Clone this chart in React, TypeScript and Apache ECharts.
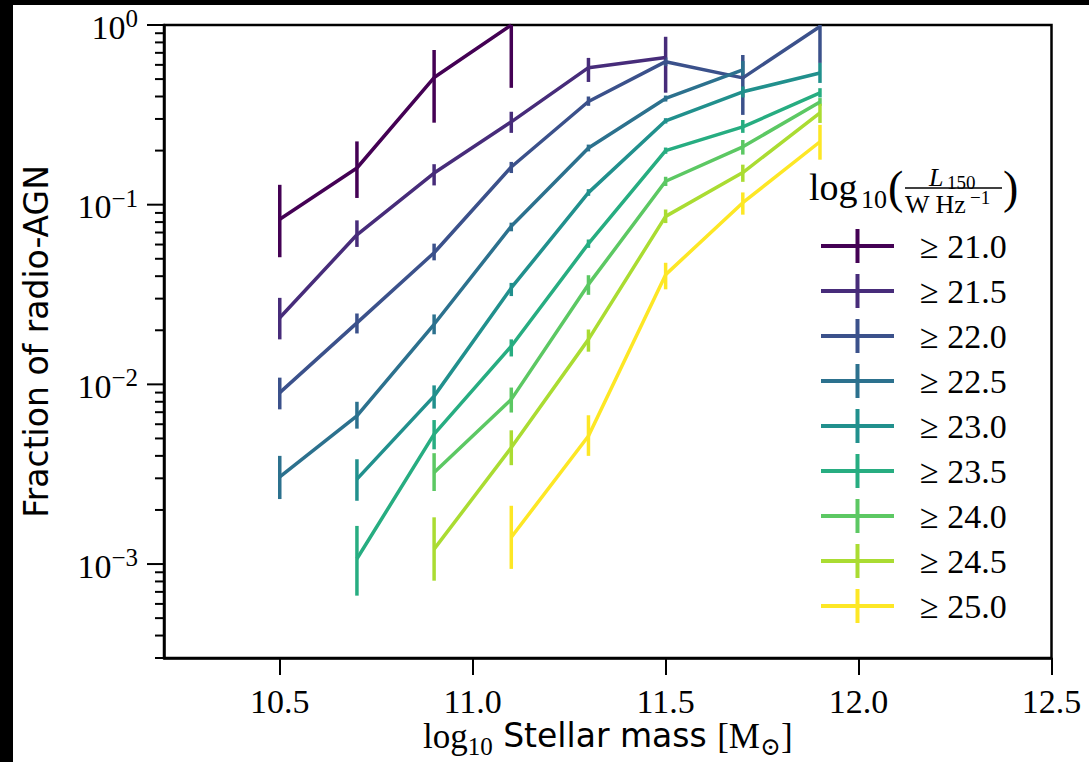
import React, { useEffect, useRef } from 'react';
import * as echarts from 'echarts';

// ---------- data ----------
const masses = [10.5, 10.7, 10.9, 11.1, 11.3, 11.5, 11.7, 11.9];
const thresholds = ['21.0', '21.5', '22.0', '22.5', '23.0', '23.5', '24.0', '24.5', '25.0'];
const colors = ['#440154', '#472c7a', '#3b518b', '#2c718e', '#21908d', '#27ad81', '#5cc863', '#aadc32', '#fde725'];

const frac21_0 = [0.083, 0.16, 0.51, 1.0, null, null, null, null];
const lo21_0 = [0.051, 0.109, 0.286, 0.447, null, null, null, null];
const hi21_0 = [0.129, 0.225, 0.726, 1.6, null, null, null, null];

const frac21_5 = [0.0235, 0.068, 0.15, 0.289, 0.579, 0.66, null, null];
const lo21_5 = [0.0178, 0.0582, 0.128, 0.251, 0.482, 0.42, null, null];
const hi21_5 = [0.0303, 0.0818, 0.168, 0.329, 0.656, 0.86, null, null];

const frac22_0 = [0.009, 0.022, 0.054, 0.162, 0.375, 0.625, 0.508, 0.98];
const lo22_0 = [0.00726, 0.0192, 0.049, 0.15, 0.355, 0.59, 0.316, 0.615];
const hi22_0 = [0.0109, 0.0248, 0.0607, 0.173, 0.4, 0.66, 0.681, 1.4];

const frac22_5 = [0.00306, 0.00667, 0.0216, 0.0758, 0.207, 0.39, 0.562, null];
const lo22_5 = [0.0023, 0.00567, 0.019, 0.0711, 0.198, 0.375, 0.5, null];
const hi22_5 = [0.004, 0.008, 0.0245, 0.0794, 0.216, 0.405, 0.63, null];

const frac23_0 = [null, 0.00297, 0.0086, 0.0344, 0.1167, 0.293, 0.425, 0.541];
const lo23_0 = [null, 0.00225, 0.00733, 0.031, 0.112, 0.283, 0.395, 0.476];
const hi23_0 = [null, 0.00383, 0.00987, 0.0367, 0.122, 0.303, 0.455, 0.615];

const frac23_5 = [null, 0.00107, 0.00528, 0.0163, 0.0607, 0.2, 0.271, 0.419];
const lo23_5 = [null, 0.000667, 0.00435, 0.0143, 0.0575, 0.192, 0.251, 0.395];
const hi23_5 = [null, 0.00163, 0.00633, 0.0178, 0.064, 0.208, 0.296, 0.445];

const frac24_0 = [null, null, 0.00323, 0.00825, 0.036, 0.135, 0.21, 0.373];
const lo24_0 = [null, null, 0.00255, 0.00697, 0.0315, 0.127, 0.19, 0.355];
const hi24_0 = [null, null, 0.00414, 0.0096, 0.0405, 0.143, 0.229, 0.392];

const frac24_5 = [null, null, 0.00121, 0.00445, 0.0178, 0.0861, 0.151, 0.324];
const lo24_5 = [null, null, 0.000808, 0.00355, 0.0152, 0.079, 0.134, 0.285];
const hi24_5 = [null, null, 0.00182, 0.00555, 0.0202, 0.094, 0.167, 0.365];

const frac25_0 = [null, null, null, 0.00141, 0.00516, 0.0408, 0.1026, 0.224];
const lo25_0 = [null, null, null, 0.00094, 0.004, 0.0338, 0.088, 0.178];
const hi25_0 = [null, null, null, 0.00211, 0.00673, 0.0475, 0.117, 0.278];

const fractions = [frac21_0, frac21_5, frac22_0, frac22_5, frac23_0, frac23_5, frac24_0, frac24_5, frac25_0];
const lows = [lo21_0, lo21_5, lo22_0, lo22_5, lo23_0, lo23_5, lo24_0, lo24_5, lo25_0];
const highs = [hi21_0, hi21_5, hi22_0, hi22_5, hi23_0, hi23_5, hi24_0, hi24_5, hi25_0];

const xTickValues = [10.5, 11.0, 11.5, 12.0, 12.5];
const yMajorTicks = [0.001, 0.01, 0.1, 1];
const yMinorTicks = [
  0.0003, 0.0004, 0.0005, 0.0006, 0.0007, 0.0008, 0.0009,
  0.002, 0.003, 0.004, 0.005, 0.006, 0.007, 0.008, 0.009,
  0.02, 0.03, 0.04, 0.05, 0.06, 0.07, 0.08, 0.09,
  0.2, 0.3, 0.4, 0.5, 0.6, 0.7, 0.8, 0.9,
];
const X_MIN = 10.2;
const X_MAX = 12.5;
const Y_MIN = 0.0003;
const Y_MAX = 1;

const SERIF = "'Liberation Serif', 'DejaVu Serif', serif";
const SANS = "'DejaVu Sans', sans-serif";
const PLUS = 'path://M0,15L73,15L73,19L0,19Z M34.5,0L38.5,0L38.5,34L34.5,34Z';

export default function App() {
  const ref = useRef<HTMLDivElement>(null);
  useEffect(() => {
    const chart = echarts.init(ref.current as HTMLDivElement, null, { renderer: 'svg' });
    const series: any[] = [];
    thresholds.forEach((t, i) => {
      const name = '≥ ' + t;
      const pts: any[] = [];
      const bars: any[] = [];
      masses.forEach((m, j) => {
        const v = fractions[i][j];
        if (v == null) return;
        pts.push([m, v]);
        bars.push([m, lows[i][j], highs[i][j]]);
      });
      series.push({
        type: 'custom',
        name: name + ' err',
        data: bars,
        encode: { x: 0, y: [1, 2] },
        clip: true,
        silent: true,
        renderItem: (_p: any, api: any) => {
          const a = api.coord([api.value(0), api.value(1)]);
          const b = api.coord([api.value(0), api.value(2)]);
          return {
            type: 'line',
            shape: { x1: a[0], y1: a[1], x2: b[0], y2: b[1] },
            style: { stroke: colors[i], lineWidth: 3.5 },
          };
        },
      });
      series.push({
        type: 'line',
        name,
        data: pts,
        symbol: 'none',
        lineStyle: { color: colors[i], width: 3.5 },
        itemStyle: { color: colors[i] },
      });
    });
    const tickSeries = (vals: number[], len: number) => ({
      type: 'custom',
      name: 'ticks' + len,
      data: vals.map((v) => [X_MIN, v]),
      encode: { x: 0, y: 1 },
      clip: false,
      silent: true,
      renderItem: (_p: any, api: any) => {
        const c = api.coord([api.value(0), api.value(1)]);
        return {
          type: 'line',
          shape: { x1: c[0] - len, y1: c[1], x2: c[0], y2: c[1] },
          style: { stroke: '#000', lineWidth: 2 },
        };
      },
    });
    series.push(tickSeries(yMajorTicks, 17));
    series.push(tickSeries(yMinorTicks, 9));

    chart.setOption({
      animation: false,
      backgroundColor: '#fff',
      grid: {
        left: 164,
        right: 37.5,
        top: 25,
        bottom: 104,
        show: true,
        borderColor: '#000',
        borderWidth: 2.5,
        containLabel: false,
        outerBoundsMode: 'none',
      },
      xAxis: {
        type: 'value',
        min: X_MIN,
        max: X_MAX,
        splitLine: { show: false },
        axisLine: { lineStyle: { color: '#000', width: 2.5 } },
        axisTick: { customValues: xTickValues, length: 17, lineStyle: { color: '#000', width: 2 } },
        axisLabel: {
          customValues: xTickValues,
          formatter: (v: number) => v.toFixed(1),
          fontFamily: SERIF,
          fontSize: 34,
          color: '#000',
          margin: 26,
        },
        name: '{s|log}{sub|10}{t| Stellar mass }{s|[M}{sub|⊙}{s|]}',
        nameLocation: 'middle',
        nameMoveOverlap: false,
        nameGap: 61,
        nameTextStyle: {
          rich: {
            s: { fontFamily: SERIF, fontSize: 35, color: '#000', lineHeight: 40, verticalAlign: 'top', padding: [0, 0, 4, 0] },
            sub: { fontFamily: SERIF, fontSize: 25, color: '#000', lineHeight: 24, verticalAlign: 'bottom' },
            t: { fontFamily: SANS, fontSize: 33, color: '#000', lineHeight: 40, verticalAlign: 'top', padding: [0, 0, 4, 0] },
          },
        },
      },
      yAxis: {
        type: 'log',
        logBase: 10,
        min: Y_MIN,
        max: Y_MAX,
        splitLine: { show: false },
        axisLine: { lineStyle: { color: '#000', width: 2.5 } },
        axisTick: { show: false },
        axisLabel: {
          margin: 26,
          formatter: (v: number) => {
            const l = Math.log10(v);
            const e = Math.round(l);
            if (Math.abs(l - e) > 1e-6) return '';
            return '{b|10}{s|' + (e === 0 ? '0' : '−' + Math.abs(e)) + '}';
          },
          rich: {
            b: { fontFamily: SERIF, fontSize: 34, color: '#000', lineHeight: 38, verticalAlign: 'bottom' },
            s: { fontFamily: SERIF, fontSize: 25, color: '#000', lineHeight: 25, verticalAlign: 'top' },
          },
        },
        name: 'Fraction of radio-AGN',
        nameLocation: 'middle',
        nameMoveOverlap: false,
        nameGap: 111,
        nameTextStyle: { fontFamily: SANS, fontSize: 33, color: '#000' },
      },
      legend: {
        data: thresholds.map((t) => ({ name: '≥ ' + t, icon: PLUS })),
        orient: 'vertical',
        left: 816,
        top: 224,
        itemWidth: 73,
        itemHeight: 34,
        itemGap: 11,
        selectedMode: false,
        itemStyle: { borderWidth: 0 },
        textStyle: { fontFamily: SERIF, fontSize: 34, color: '#000', padding: [0, 0, 0, 21], lineHeight: 34 },
      },
      graphic: [
        { type: 'rect', shape: { x: 0, y: 0, width: 1089, height: 5 }, style: { fill: '#000' } },
        { type: 'rect', shape: { x: 0, y: 0, width: 13, height: 762 }, style: { fill: '#000' } },
        { type: 'text', x: 809, y: 187, style: { text: 'log', font: '38px ' + SERIF, fill: '#000', verticalAlign: 'middle' } },
        { type: 'text', x: 861, y: 199, style: { text: '10', font: '26px ' + SERIF, fill: '#000', verticalAlign: 'middle' } },
        { type: 'text', x: 888, y: 187, style: { text: '(', font: '46px ' + SERIF, fill: '#000', verticalAlign: 'middle' } },
        { type: 'text', x: 929, y: 177, style: { text: 'L', font: 'italic 26px ' + SERIF, fill: '#000', verticalAlign: 'middle' } },
        { type: 'text', x: 947, y: 182, style: { text: '150', font: '19px ' + SERIF, fill: '#000', verticalAlign: 'middle' } },
        { type: 'line', shape: { x1: 905, y1: 188, x2: 1002, y2: 188 }, style: { stroke: '#000', lineWidth: 1.5 } },
        { type: 'text', x: 905, y: 204, style: { text: 'W Hz', font: '26px ' + SERIF, fill: '#000', verticalAlign: 'middle' } },
        { type: 'text', x: 970, y: 197, style: { text: '−1', font: '19px ' + SERIF, fill: '#000', verticalAlign: 'middle' } },
        { type: 'text', x: 1003, y: 187, style: { text: ')', font: '46px ' + SERIF, fill: '#000', verticalAlign: 'middle' } },
      ],
      series,
    });
    return () => chart.dispose();
  }, []);
  return <div ref={ref} style={{ position: 'absolute', left: 0, top: 0, width: 1089, height: 762 }} />;
}
